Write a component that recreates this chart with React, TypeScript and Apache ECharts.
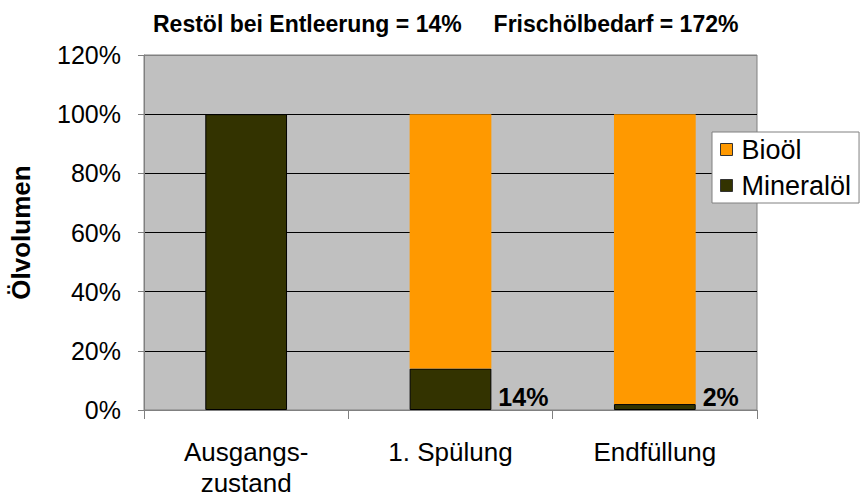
import React, { useEffect, useRef } from "react";
import * as echarts from "echarts";

const categories = ["Ausgangs-\nzustand", "1. Spülung", "Endfüllung"];
const mineraloel = [100, 14, 2];
const biooel = [0, 86, 98];
const mineralLabels = ["", "14%", "2%"];
const yTicks = [0, 20, 40, 60, 80, 100, 120];
const titleText = "Restöl bei Entleerung = 14%     Frischölbedarf = 172%";

const FONT = "'Liberation Sans', Arial, sans-serif";

export default function App() {
  const ref = useRef<HTMLDivElement>(null);
  useEffect(() => {
    document.body.style.margin = "0";
    const chart = echarts.init(ref.current!, null, { renderer: "svg" });
    chart.setOption({
      animation: false,
      backgroundColor: "#ffffff",
      textStyle: { fontFamily: FONT },
      title: {
        text: titleText,
        left: 148,
        top: 7,
        textStyle: { fontSize: 23, fontWeight: "bold", color: "#000", fontFamily: FONT },
      },
      legend: {
        data: ["Bioöl", "Mineralöl"],
        orient: "vertical",
        left: 712,
        top: 132,
        backgroundColor: "#ffffff",
        borderColor: "#808080",
        borderWidth: 1,
        borderRadius: 0,
        padding: [4, 8, 4, 8],
        itemWidth: 12,
        itemHeight: 12,
        itemGap: 9,
        icon: "rect",
        z: 10,
        itemStyle: { borderColor: "#333", borderWidth: 1 },
        textStyle: { fontSize: 27, color: "#000", fontFamily: FONT, padding: [0, 0, 0, 4] },
      },
      grid: {
        left: 143,
        top: 55,
        width: 614,
        height: 356,
        show: true,
        backgroundColor: "#c0c0c0",
        borderColor: "#808080",
        borderWidth: 1,
      },
      xAxis: {
        type: "category",
        data: categories,
        axisLine: { lineStyle: { color: "#808080", width: 1 } },
        axisTick: { show: true, length: 9, lineStyle: { color: "#808080" } },
        axisLabel: {
          fontSize: 26,
          color: "#000",
          margin: 26,
          lineHeight: 31,
          fontFamily: FONT,
        },
      },
      yAxis: {
        type: "value",
        min: 0,
        max: 120,
        interval: 20,
        name: "Ölvolumen",
        nameLocation: "middle",
        nameGap: 110,
        nameTextStyle: { fontSize: 26, fontWeight: "bold", color: "#000", fontFamily: FONT },
        axisLine: { show: true, lineStyle: { color: "#808080" } },
        axisTick: { show: true, length: 6, lineStyle: { color: "#808080" } },
        axisLabel: {
          fontSize: 25,
          color: "#000",
          margin: 23,
          fontFamily: FONT,
          formatter: (v: number) => (yTicks.includes(v) ? v + "%" : ""),
        },
        splitLine: {
          show: true,
          lineStyle: { color: ["#000", "#000", "#000", "#000", "#000", "#000", "#808080"], width: 1 },
        },
      },
      series: [
        {
          name: "Mineralöl",
          type: "bar",
          stack: "total",
          barWidth: "40%",
          data: mineraloel.map((v, i) => ({
            value: v,
            label: {
              show: mineralLabels[i] !== "",
              formatter: mineralLabels[i],
            },
          })),
          itemStyle: { color: "#333300", borderColor: "#000", borderWidth: 1 },
          label: {
            position: ["100%", "100%"],
            align: "left",
            verticalAlign: "bottom",
            offset: [7, -1],
            fontSize: 25,
            fontWeight: "bold",
            color: "#000",
            fontFamily: FONT,
          },
        },
        {
          name: "Bioöl",
          type: "bar",
          stack: "total",
          barWidth: "40%",
          data: biooel,
          itemStyle: { color: "#FF9900" },
        },
      ],
    });
    return () => chart.dispose();
  }, []);
  return <div ref={ref} style={{ width: 861, height: 498 }} />;
}
